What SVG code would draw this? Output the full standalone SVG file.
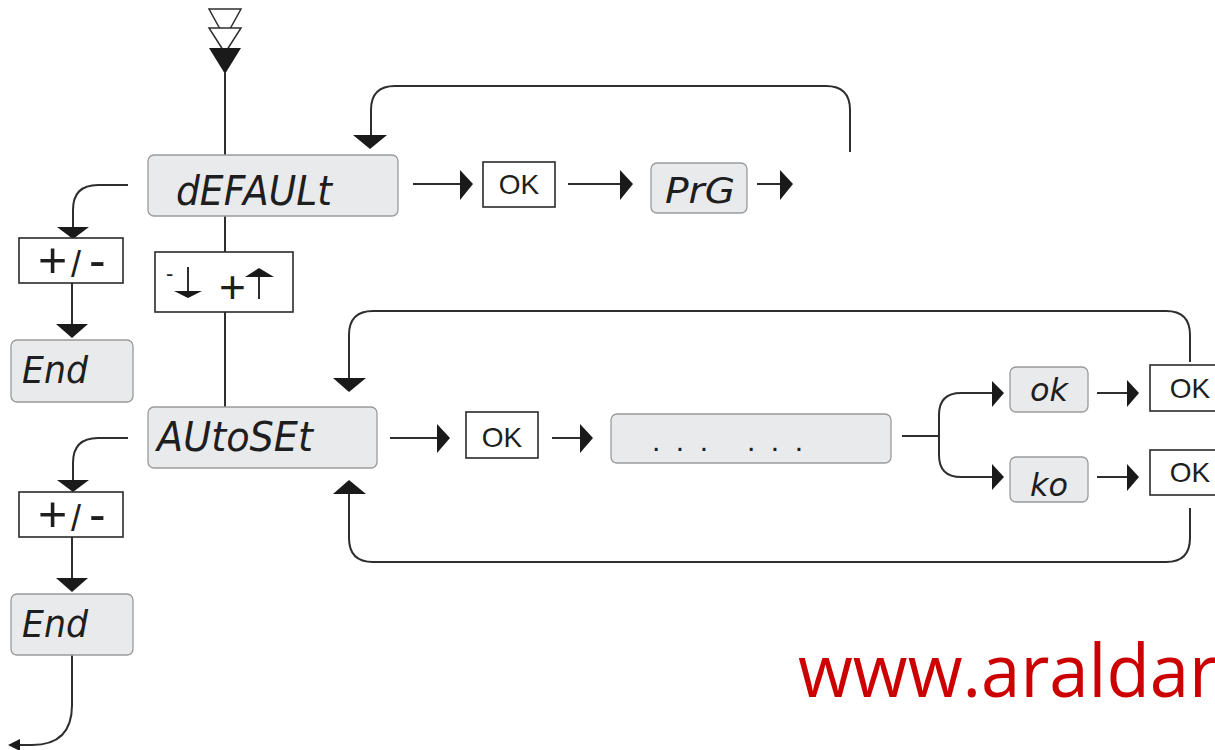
<svg xmlns="http://www.w3.org/2000/svg" width="1215" height="750" viewBox="0 0 1215 750">
<style>
.lcd{fill:#e9eaec;stroke:#9a9a9a;stroke-width:1.3}
.btn{fill:#fff;stroke:#2a2a2a;stroke-width:1.6}
.seg{font-family:"DejaVu Sans",sans-serif;font-style:italic;fill:#1e1e1e}
.lbl{font-family:"Liberation Sans",Arial,sans-serif;fill:#1e1e1e}
.big{font-size:50px}
.sl{font-size:36px}
.ln{fill:none;stroke:#2e2e2e;stroke-width:2}
.hd{fill:#1a1a1a}
.hol{fill:#fff;stroke:#2e2e2e;stroke-width:1.5}
</style>
<rect width="1215" height="750" fill="#fff"/>
<g id="connectors">
<polygon class="hol" points="209,9 241,9 225,38"/>
<polygon class="hol" points="209,28 241,28 225,53"/>
<polygon class="hd" points="209,48 241,48 225,74"/>
<path class="ln" d="M225,73 V155 M225,216 V252 M225,312 V407"/>
<path class="ln" d="M128,185 H98 Q73,185 73,210 V228"/>
<polygon class="hd" points="57,227 89,227 73,239"/>
<path class="ln" d="M72,283 V325"/>
<polygon class="hd" points="56,324 88,324 72,338"/>
<path class="ln" d="M128,438 H98 Q73,438 73,463 V481"/>
<polygon class="hd" points="57,480 89,480 73,492"/>
<path class="ln" d="M72,537 V579"/>
<polygon class="hd" points="56,578 88,578 72,592"/>
<path class="ln" d="M72,655 V705 Q72,745 32,745 H16"/>
<polygon class="hd" points="8,745 20,739 20,751"/>
<path class="ln" d="M413,184 H461"/>
<polygon class="hd" points="460,170 473,184 460,200"/>
<path class="ln" d="M568,184 H621"/>
<polygon class="hd" points="620,170 633,184 620,200"/>
<path class="ln" d="M757,184 H781"/>
<polygon class="hd" points="780,170 793,184 780,200"/>
<path class="ln" d="M850,152 V110 Q850,86 826,86 H395 Q371,86 371,110 V136"/>
<polygon class="hd" points="353,135 387,135 370,149"/>
<path class="ln" d="M390,438 H438"/>
<polygon class="hd" points="437,424 450,438 437,453"/>
<path class="ln" d="M552,438 H581"/>
<polygon class="hd" points="580,424 593,438 580,453"/>
<path class="ln" d="M1190,362 V335 Q1190,311 1166,311 H373 Q349,311 349,335 V379"/>
<polygon class="hd" points="333,378 366,378 349,392"/>
<path class="ln" d="M1190,508 V538 Q1190,562 1166,562 H373 Q349,562 349,538 V493"/>
<polygon class="hd" points="333,494 366,494 349,480"/>
<path class="ln" d="M902,436 H939 M939,436 V415 Q939,393 961,393 H993 M939,436 V455 Q939,477 961,477 H993"/>
<polygon class="hd" points="992,381 1004,393 992,407"/>
<polygon class="hd" points="992,464 1004,477 992,490"/>
<path class="ln" d="M1097,393 H1128 M1097,477 H1128"/>
<polygon class="hd" points="1127,380 1139,393 1127,407"/>
<polygon class="hd" points="1127,464 1139,477 1127,491"/>
</g>
<g id="n-default">
<rect class="lcd" x="148" y="155" width="250" height="61" rx="6"/>
<text class="seg" x="176" y="205" font-size="40" textLength="156" lengthAdjust="spacingAndGlyphs">dEFAULt</text>
</g>
<g id="n-ok1">
<rect class="btn" x="483" y="162" width="72" height="45"/>
<text class="lbl" x="519" y="194" font-size="28" text-anchor="middle">OK</text>
</g>
<g id="n-prg">
<rect class="lcd" x="651" y="163" width="96" height="50" rx="6"/>
<text class="seg" x="665" y="203" font-size="36" textLength="70" lengthAdjust="spacingAndGlyphs">PrG</text>
</g>
<g id="n-pm1">
<rect class="btn" x="19" y="238" width="104" height="45"/>
<text class="lbl" y="277"><tspan class="big" x="38">+</tspan><tspan class="sl" x="71">/</tspan><tspan class="big" x="89">-</tspan></text>
</g>
<g id="n-end1">
<rect class="lcd" x="11" y="340" width="122" height="62" rx="6"/>
<text class="seg" x="22" y="383" font-size="38" textLength="66" lengthAdjust="spacingAndGlyphs">End</text>
</g>
<g id="n-updown">
<rect class="btn" x="155" y="252" width="138" height="60"/>
<text class="lbl" x="166" y="281" font-size="22">-</text>
<path class="ln" d="M188,267 V292"/>
<polygon class="hd" points="174,291 202,291 188,298"/>
<text class="lbl" x="219" y="303" font-size="46">+</text>
<path class="ln" d="M259,276 V299"/>
<polygon class="hd" points="245,277 274,277 259,268"/>
</g>
<g id="n-autoset">
<rect class="lcd" x="148" y="407" width="229" height="61" rx="6"/>
<text class="seg" x="157" y="451" font-size="40" textLength="156" lengthAdjust="spacingAndGlyphs">AUtoSEt</text>
</g>
<g id="n-ok2">
<rect class="btn" x="466" y="412" width="72" height="46"/>
<text class="lbl" x="502" y="447" font-size="28" text-anchor="middle">OK</text>
</g>
<g id="n-dots">
<rect class="lcd" x="611" y="414" width="280" height="49" rx="6"/>
<text class="lbl" x="652" y="451" font-size="30" textLength="56" lengthAdjust="spacing">. . .</text>
<text class="lbl" x="747" y="451" font-size="30" textLength="56" lengthAdjust="spacing">. . .</text>
</g>
<g id="n-pm2">
<rect class="btn" x="19" y="492" width="104" height="45"/>
<text class="lbl" y="531"><tspan class="big" x="38">+</tspan><tspan class="sl" x="71">/</tspan><tspan class="big" x="89">-</tspan></text>
</g>
<g id="n-end2">
<rect class="lcd" x="11" y="594" width="122" height="61" rx="6"/>
<text class="seg" x="22" y="637" font-size="38" textLength="66" lengthAdjust="spacingAndGlyphs">End</text>
</g>
<g id="n-okres">
<rect class="lcd" x="1010" y="367" width="78" height="45" rx="6"/>
<text class="seg" x="1030" y="401" font-size="32" textLength="38" lengthAdjust="spacingAndGlyphs">ok</text>
</g>
<g id="n-kores">
<rect class="lcd" x="1010" y="457" width="78" height="45" rx="6"/>
<text class="seg" x="1030" y="496" font-size="32" textLength="38" lengthAdjust="spacingAndGlyphs">ko</text>
</g>
<g id="n-ok3">
<rect class="btn" x="1150" y="365" width="80" height="46"/>
<text class="lbl" x="1190" y="398" font-size="28" text-anchor="middle">OK</text>
</g>
<g id="n-ok4">
<rect class="btn" x="1150" y="450" width="80" height="45"/>
<text class="lbl" x="1190" y="482" font-size="28" text-anchor="middle">OK</text>
</g>
<text x="798" y="697" font-family="'Open Sans','Noto Sans',sans-serif" font-size="73" fill="#cc0000" textLength="420" lengthAdjust="spacingAndGlyphs">www.araldar</text>
</svg>
